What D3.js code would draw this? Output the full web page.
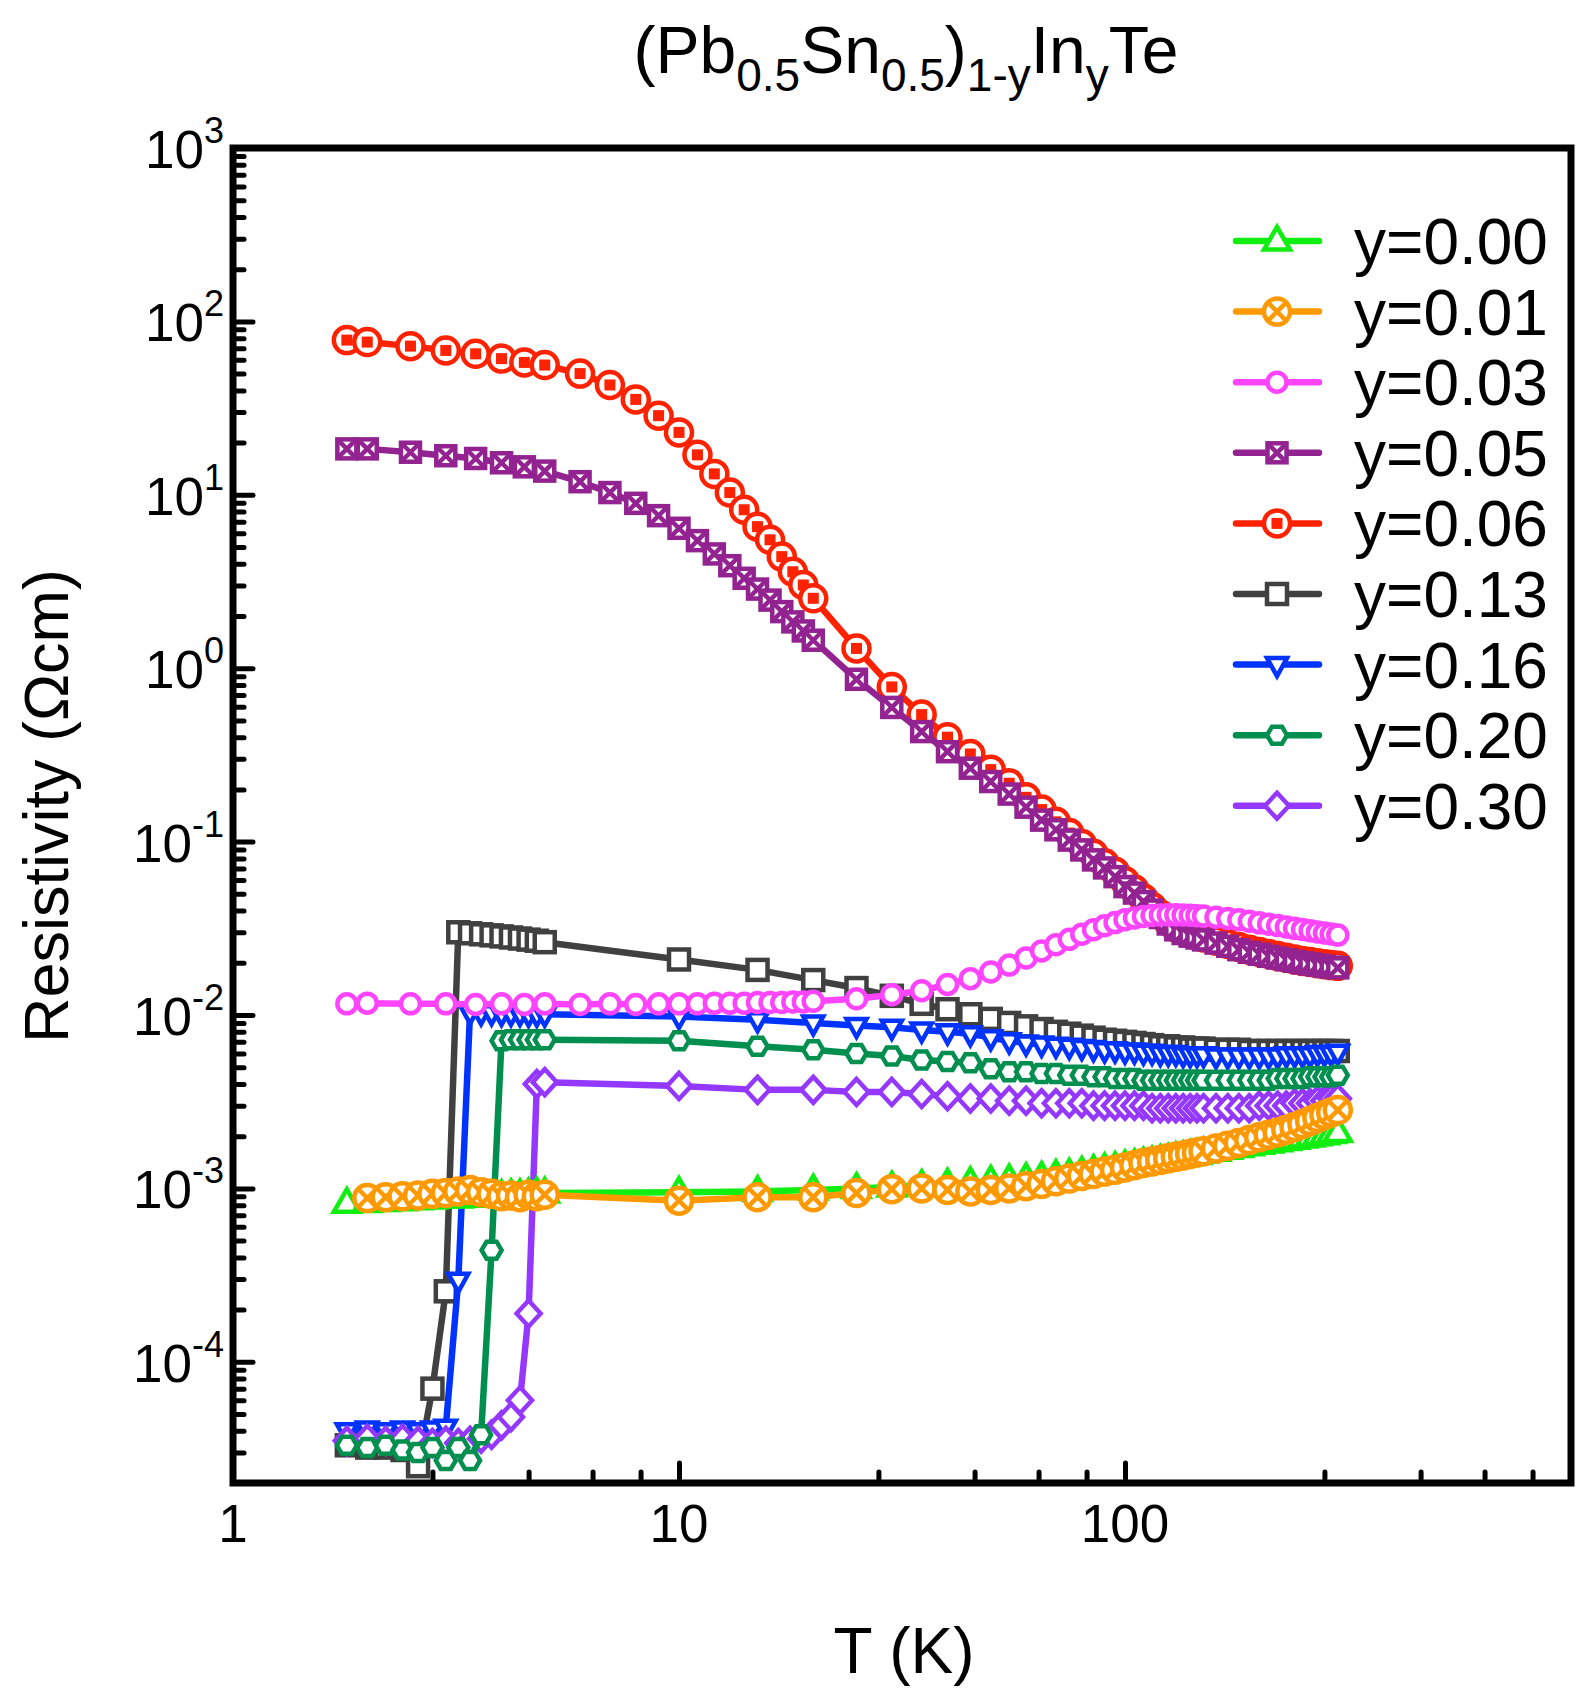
<!DOCTYPE html>
<html>
<head>
<meta charset="utf-8">
<script src="https://cdn.jsdelivr.net/npm/d3@7"></script>
<style>
  body { margin: 0; background: #fff; }
  text { font-family: "Liberation Sans", Arial, sans-serif; fill: #000; }
</style>
</head>
<body>
<svg id="chart" width="1591" height="1704"></svg>
<script>
// temperature grids (K)
const tempA = [1.8, 2, 2.5, 3, 3.5, 4, 4.5, 5, 6, 7, 8, 9, 10, 11, 12, 13, 14, 15, 16, 17, 18, 19, 20,
  25, 30, 35, 40, 45, 50, 55, 60, 65, 70, 75, 80, 85, 90, 95, 100, 105, 110, 115, 120, 125, 130, 135, 140, 145, 150,
  160, 170, 180, 190, 200, 210, 220, 230, 240, 250, 260, 270, 280, 290, 300];
const tempB = [1.8, 2, 2.2, 2.4, 2.6, 2.8, 3, 3.2, 3.4, 3.6, 3.8, 4, 4.2, 4.4, 4.6, 4.8, 5,
  10, 15, 20, 25, 30, 35, 40, 45, 50, 55, 60, 65, 70, 75, 80, 85, 90, 95, 100, 105, 110, 115, 120, 125, 130, 135, 140, 145, 150,
  160, 170, 180, 190, 200, 210, 220, 230, 240, 250, 260, 270, 280, 290, 300];

// resistivity (Ohm cm), on tempA
const rho006 = [78, 76, 72, 68, 65, 61, 58, 56, 50, 43, 35.5, 28.6, 22.9, 17.0, 13.2, 10.3, 8.2, 6.55, 5.5, 4.4, 3.6, 3.02, 2.53,
  1.30, 0.78, 0.54, 0.40, 0.32, 0.26, 0.217, 0.180, 0.153, 0.130, 0.112, 0.097, 0.085, 0.075, 0.067, 0.059, 0.053, 0.047, 0.042, 0.038, 0.0345, 0.032, 0.0305, 0.0295, 0.0287, 0.028,
  0.0268, 0.0257, 0.0247, 0.0238, 0.0231, 0.0225, 0.0219, 0.0214, 0.0209, 0.0205, 0.0202, 0.0199, 0.0196, 0.0194, 0.0192];
const rho005 = [18.4, 18.4, 17.6, 16.8, 16.2, 15.3, 14.5, 13.7, 11.9, 10.3, 8.93, 7.58, 6.41, 5.44, 4.56, 3.90, 3.30, 2.86, 2.47, 2.12, 1.85, 1.64, 1.45,
  0.863, 0.594, 0.431, 0.330, 0.265, 0.222, 0.188, 0.158, 0.133, 0.117, 0.102, 0.0895, 0.0784, 0.0705, 0.0628, 0.055, 0.0505, 0.0451, 0.0403, 0.0365, 0.0335, 0.031, 0.0295, 0.0285, 0.0278, 0.0271,
  0.026, 0.0249, 0.0238, 0.023, 0.0224, 0.0218, 0.0213, 0.0208, 0.0204, 0.0200, 0.0197, 0.0194, 0.0191, 0.0189, 0.0187];
const rho003 = [0.0116, 0.0117, 0.0116, 0.0116, 0.0115, 0.0116, 0.0115, 0.0116, 0.0115, 0.0116, 0.0115, 0.0116, 0.0116, 0.0116, 0.0117, 0.0117, 0.0117, 0.0118, 0.0118, 0.0118, 0.0119, 0.0119, 0.0120,
  0.0124, 0.0131, 0.0138, 0.0150, 0.0162, 0.0177, 0.0194, 0.0213, 0.0234, 0.0254, 0.0273, 0.0292, 0.0310, 0.0327, 0.0341, 0.0354, 0.0363, 0.0370, 0.0375, 0.0377, 0.0378, 0.0378, 0.0377, 0.0376, 0.0374, 0.0372,
  0.0366, 0.0360, 0.0354, 0.0347, 0.0340, 0.0334, 0.0328, 0.0322, 0.0316, 0.0311, 0.0306, 0.0301, 0.0297, 0.0293, 0.0289];

// resistivity (Ohm cm), on tempB
const rho013 = [3.3e-5, 3.2e-5, 3.2e-5, 3.1e-5, 2.5e-5, 7.0e-5, 2.55e-4, 0.0300, 0.0296, 0.0292, 0.0288, 0.0284, 0.0280, 0.0276, 0.0272, 0.0268, 0.0263,
  0.0209, 0.0182, 0.0159, 0.0143, 0.0129, 0.0116, 0.0108, 0.0101, 0.0095, 0.0090, 0.0086, 0.0083, 0.0080, 0.0078, 0.0076, 0.0074, 0.0072, 0.0071, 0.0070, 0.0069, 0.0068, 0.0067, 0.0066, 0.0066, 0.0065, 0.0065, 0.0064, 0.0064, 0.0064,
  0.0063, 0.0063, 0.0063, 0.0062, 0.0062, 0.0062, 0.0062, 0.0062, 0.0062, 0.0062, 0.0062, 0.0062, 0.0062, 0.0062, 0.0062];
const rho016 = [4.0e-5, 4.1e-5, 4.0e-5, 4.1e-5, 4.0e-5, 4.1e-5, 4.2e-5, 2.95e-4, 0.0104, 0.0103, 0.0103, 0.0102, 0.0102, 0.0102, 0.0101, 0.0101, 0.0101,
  0.0098, 0.0094, 0.0090, 0.0087, 0.0085, 0.0082, 0.0080, 0.0078, 0.0074, 0.0071, 0.0069, 0.0068, 0.0067, 0.0066, 0.0065, 0.0064, 0.0063, 0.0063, 0.0062, 0.0062, 0.0061, 0.0061, 0.0060, 0.0060, 0.0060, 0.0059, 0.0059, 0.0059, 0.0059,
  0.0058, 0.0058, 0.0058, 0.0058, 0.0058, 0.0058, 0.0058, 0.0059, 0.0059, 0.0059, 0.0059, 0.0060, 0.0060, 0.0060, 0.0061];
const rho020 = [3.3e-5, 3.2e-5, 3.3e-5, 3.1e-5, 3.0e-5, 3.2e-5, 2.7e-5, 3.2e-5, 2.7e-5, 3.8e-5, 4.4e-4, 0.0071, 0.0072, 0.0072, 0.0072, 0.0072, 0.0072,
  0.0071, 0.0066, 0.0063, 0.0060, 0.0058, 0.0055, 0.0054, 0.0053, 0.0049, 0.0047, 0.0047, 0.0046, 0.0046, 0.0045, 0.0045, 0.0044, 0.0044, 0.0043, 0.0043, 0.0043, 0.0042, 0.0042, 0.0042, 0.0042, 0.0042, 0.0042, 0.0042, 0.0042, 0.0042,
  0.0042, 0.0042, 0.0042, 0.0042, 0.0042, 0.0042, 0.0043, 0.0043, 0.0043, 0.0043, 0.0044, 0.0044, 0.0044, 0.0044, 0.0045];
const rho030 = [3.5e-5, 3.6e-5, 3.5e-5, 3.6e-5, 3.5e-5, 3.4e-5, 3.5e-5, 3.4e-5, 3.5e-5, 3.6e-5, 3.8e-5, 4.3e-5, 4.8e-5, 6.0e-5, 1.9e-4, 0.0040, 0.0041,
  0.0039, 0.0037, 0.0037, 0.0036, 0.0036, 0.0035, 0.0034, 0.0033, 0.0033, 0.0032, 0.0032, 0.0031, 0.0031, 0.0031, 0.0031, 0.0030, 0.0030, 0.0030, 0.0030, 0.0030, 0.0030, 0.0029, 0.0029, 0.0029, 0.0029, 0.0029, 0.0029, 0.0029, 0.0029,
  0.0029, 0.0029, 0.0029, 0.0029, 0.0030, 0.0030, 0.0030, 0.0030, 0.0031, 0.0031, 0.0031, 0.0032, 0.0032, 0.0033, 0.0033];
const rho000 = [8.2e-4, 8.3e-4, 8.4e-4, 8.5e-4, 8.6e-4, 8.7e-4, 8.8e-4, 8.8e-4, 8.9e-4, 9.0e-4, 9.0e-4, 9.1e-4, 9.2e-4, 9.2e-4, 9.3e-4, 9.4e-4, 9.4e-4,
  9.5e-4, 9.6e-4, 9.8e-4, 1.0e-3, 1.02e-3, 1.04e-3, 1.06e-3, 1.08e-3, 1.1e-3, 1.12e-3, 1.14e-3, 1.16e-3, 1.19e-3, 1.21e-3, 1.24e-3, 1.27e-3, 1.3e-3, 1.32e-3, 1.35e-3, 1.37e-3, 1.4e-3, 1.42e-3, 1.45e-3, 1.47e-3, 1.5e-3, 1.52e-3, 1.55e-3, 1.57e-3, 1.6e-3,
  1.64e-3, 1.68e-3, 1.72e-3, 1.76e-3, 1.8e-3, 1.83e-3, 1.86e-3, 1.89e-3, 1.92e-3, 1.95e-3, 1.98e-3, 2.01e-3, 2.04e-3, 2.07e-3, 2.1e-3];
const rho001 = [null, 8.8e-4, 8.9e-4, 9.0e-4, 9.1e-4, 9.3e-4, 9.4e-4, 9.6e-4, 9.8e-4, 9.5e-4, 9.3e-4, 9.0e-4, 9.1e-4, 8.9e-4, 9.2e-4, 9.0e-4, 9.2e-4,
  8.5e-4, 8.9e-4, 8.9e-4, 9.4e-4, 9.9e-4, 1.0e-3, 9.8e-4, 9.6e-4, 9.8e-4, 1.0e-3, 1.03e-3, 1.06e-3, 1.1e-3, 1.14e-3, 1.18e-3, 1.21e-3, 1.25e-3, 1.28e-3, 1.32e-3, 1.36e-3, 1.4e-3, 1.43e-3, 1.46e-3, 1.49e-3, 1.52e-3, 1.55e-3, 1.58e-3, 1.61e-3, 1.64e-3,
  1.7e-3, 1.76e-3, 1.83e-3, 1.9e-3, 1.97e-3, 2.04e-3, 2.1e-3, 2.18e-3, 2.26e-3, 2.35e-3, 2.45e-3, 2.55e-3, 2.65e-3, 2.74e-3, 2.83e-3];

// axis ticks
const xMajor = [1, 10, 100];
const xMinor = [2.8, 4.6, 6.4, 8.2, 28, 46, 64, 82, 280, 460, 640, 820];
const yExponents = [-4, -3, -2, -1, 0, 1, 2, 3];

// legend order (top to bottom)
const series = [
  { label: "y=0.00", temps: tempB, rho: rho000, color: "#11ee11", shape: "triUp" },
  { label: "y=0.01", temps: tempB, rho: rho001, color: "#ff9900", shape: "circleX" },
  { label: "y=0.03", temps: tempA, rho: rho003, color: "#ff44ff", shape: "circle" },
  { label: "y=0.05", temps: tempA, rho: rho005, color: "#922390", shape: "squareX" },
  { label: "y=0.06", temps: tempA, rho: rho006, color: "#ff2200", shape: "circleDot" },
  { label: "y=0.13", temps: tempB, rho: rho013, color: "#404040", shape: "square" },
  { label: "y=0.16", temps: tempB, rho: rho016, color: "#0033ff", shape: "triDown" },
  { label: "y=0.20", temps: tempB, rho: rho020, color: "#008f4f", shape: "hexagon" },
  { label: "y=0.30", temps: tempB, rho: rho030, color: "#9437ff", shape: "diamond" }
];
// drawing order, bottom to top
const drawOrder = ["y=0.13", "y=0.16", "y=0.30", "y=0.20", "y=0.06", "y=0.05", "y=0.03", "y=0.00", "y=0.01"];

const svg = d3.select("#chart");
const plotL = 233, plotR = 1571, plotT = 148, plotB = 1483;

const x = d3.scaleLog().domain([1, 1000]).range([plotL, plotR]);
const y = d3.scaleLog().domain([2e-5, 1000]).range([plotB, plotT]);

// minor y ticks 2..9 per decade
const yMinor = [];
for (let e = -5; e <= 2; e++) {
  for (let k = 2; k <= 9; k++) {
    const v = k * Math.pow(10, e);
    if (v > 2.5e-5 && v < 1000) yMinor.push(v);
  }
}

// axes (ticks pointing inward)
function styleAxis(g) {
  g.select(".domain").remove();
  g.selectAll(".tick line").attr("stroke", "#000").attr("stroke-width", 5).attr("stroke-linecap", "round");
}
svg.append("g").attr("transform", `translate(0,${plotB})`)
  .call(d3.axisBottom(x).tickValues(xMajor).tickSize(-20).tickFormat(""))
  .call(styleAxis);
svg.append("g").attr("transform", `translate(0,${plotB})`)
  .call(d3.axisBottom(x).tickValues(xMinor).tickSize(-11).tickFormat(""))
  .call(styleAxis);
svg.append("g").attr("transform", `translate(${plotL},0)`)
  .call(d3.axisLeft(y).tickValues(yExponents.map(e => Math.pow(10, e))).tickSize(-20).tickFormat(""))
  .call(styleAxis);
svg.append("g").attr("transform", `translate(${plotL},0)`)
  .call(d3.axisLeft(y).tickValues(yMinor).tickSize(-11).tickFormat(""))
  .call(styleAxis);

// frame
svg.append("rect")
  .attr("x", plotL).attr("y", plotT)
  .attr("width", plotR - plotL).attr("height", plotB - plotT)
  .attr("fill", "none").attr("stroke", "#000").attr("stroke-width", 7);

// tick labels
xMajor.forEach(v => {
  svg.append("text")
    .attr("x", x(v)).attr("y", 1542)
    .attr("text-anchor", "middle").attr("font-size", 53)
    .text(v);
});
yExponents.forEach(e => {
  const t = svg.append("text")
    .attr("x", 224).attr("y", y(Math.pow(10, e)) + 20)
    .attr("text-anchor", "end").attr("font-size", 53);
  t.append("tspan").text("10");
  t.append("tspan").attr("dy", -25).attr("font-size", 36).text(e);
});

// axis titles
svg.append("text")
  .attr("x", 904).attr("y", 1673)
  .attr("text-anchor", "middle").attr("font-size", 64)
  .text("T (K)");
svg.append("text")
  .attr("transform", "translate(68,806) rotate(-90)")
  .attr("text-anchor", "middle").attr("font-size", 63)
  .text("Resistivity (Ωcm)");

// title with subscripts
const title = svg.append("text")
  .attr("x", 906).attr("y", 73)
  .attr("text-anchor", "middle").attr("font-size", 66);
const titleParts = [["(Pb", 0], ["0.5", 1], ["Sn", 0], ["0.5", 1], [")", 0], ["1-y", 1], ["In", 0], ["y", 1], ["Te", 0]];
let prevSub = 0;
titleParts.forEach(([s, sub]) => {
  title.append("tspan")
    .attr("dy", (sub - prevSub) * 18)
    .attr("font-size", sub ? 46 : 66)
    .text(s);
  prevSub = sub;
});

// markers
function marker(g, shape, color) {
  const sw = 4.5;
  const o = { fill: "#fff", stroke: color, "stroke-width": sw };
  function put(el) { Object.entries(o).forEach(([k, v]) => el.attr(k, v)); return el; }
  if (shape === "triUp") put(g.append("path").attr("d", "M0,-14L13,8.5L-13,8.5Z"));
  if (shape === "triDown") put(g.append("path").attr("d", "M0,11.5L10,-6.5L-10,-6.5Z"));
  if (shape === "circle") put(g.append("circle").attr("r", 9.5));
  if (shape === "square") put(g.append("rect").attr("x", -10).attr("y", -10).attr("width", 20).attr("height", 20));
  if (shape === "diamond") put(g.append("path").attr("d", "M0,-13L12,0L0,13L-12,0Z"));
  if (shape === "hexagon") put(g.append("path").attr("d", "M-10,0L-5,-8.5L5,-8.5L10,0L5,8.5L-5,8.5Z"));
  if (shape === "circleX") {
    put(g.append("circle").attr("r", 13));
    g.append("path").attr("d", "M-8.5,-8.5L8.5,8.5M-8.5,8.5L8.5,-8.5").attr("stroke", color).attr("stroke-width", sw);
  }
  if (shape === "squareX") {
    put(g.append("rect").attr("x", -9.5).attr("y", -9.5).attr("width", 19).attr("height", 19));
    g.append("path").attr("d", "M-9.5,-9.5L9.5,9.5M-9.5,9.5L9.5,-9.5").attr("stroke", color).attr("stroke-width", sw);
  }
  if (shape === "circleDot") {
    put(g.append("circle").attr("r", 13));
    g.append("rect").attr("x", -5.5).attr("y", -5.5).attr("width", 11).attr("height", 11).attr("fill", color);
  }
}

const line = d3.line().x(d => x(d.t)).y(d => y(d.r));

drawOrder.forEach(name => {
  const s = series.find(d => d.label === name);
  const pts = s.temps.map((t, i) => ({ t: t, r: s.rho[i] })).filter(d => d.r != null);
  const g = svg.append("g");
  g.append("path").datum(pts)
    .attr("d", line)
    .attr("fill", "none").attr("stroke", s.color)
    .attr("stroke-width", 6.5).attr("stroke-linejoin", "round");
  pts.forEach(d => {
    marker(g.append("g").attr("transform", `translate(${x(d.t)},${y(d.r)})`), s.shape, s.color);
  });
});

// legend
series.forEach((s, i) => {
  const cy = 241 + i * 70.6;
  const g = svg.append("g");
  g.append("line")
    .attr("x1", 1236).attr("x2", 1319).attr("y1", cy).attr("y2", cy)
    .attr("stroke", s.color).attr("stroke-width", 6.5).attr("stroke-linecap", "round");
  marker(g.append("g").attr("transform", `translate(1277,${cy})`), s.shape, s.color);
  g.append("text")
    .attr("x", 1354).attr("y", cy + 23)
    .attr("font-size", 64)
    .text(s.label);
});
</script>
</body>
</html>
